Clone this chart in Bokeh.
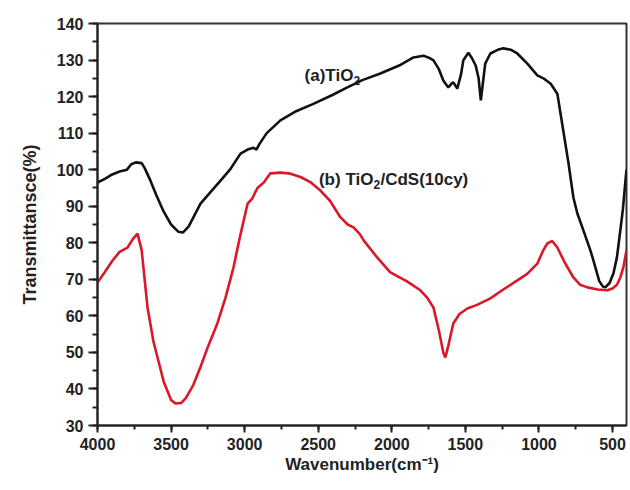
from bokeh.plotting import figure
from bokeh.models import Range1d, SingleIntervalTicker, ColumnDataSource
from bokeh.core.properties import value
from bokeh.embed import file_html
from bokeh.resources import INLINE

# ---- data ----
wn_a = [4000, 3950, 3900, 3850, 3800, 3770, 3740, 3700, 3680, 3640, 3600, 3550, 3500,
        3450, 3420, 3380, 3300, 3164, 3100, 3028, 2980, 2940, 2920, 2900, 2850, 2757,
        2650, 2533, 2400, 2302, 2200, 2078, 1950, 1853, 1785, 1740, 1717, 1680, 1650,
        1616, 1595, 1582, 1555, 1530, 1514, 1480, 1455, 1430, 1410, 1395, 1380, 1365,
        1330, 1280, 1242, 1190, 1147, 1079, 1011, 970, 920, 875, 840, 800, 766, 739,
        698, 651, 630, 590, 565, 549, 520, 494, 470, 447, 430, 412, 405]
tr_a = [96.5, 97.5, 98.7, 99.5, 100.0, 101.5, 102.0, 101.8, 100.5, 97.0, 93.0, 88.5, 85.0,
        83.0, 82.8, 84.5, 90.7, 97.0, 100.0, 104.4, 105.5, 106.0, 105.5, 107.0, 110.0, 113.5,
        116.0, 118.0, 120.5, 122.5, 124.5, 126.3, 128.5, 130.7, 131.2, 130.5, 129.9, 127.5, 124.4,
        122.5, 123.5, 123.9, 122.2, 126.0, 129.9, 132.0, 130.5, 128.5, 125.0, 119.0, 124.0, 129.0,
        131.8, 132.8, 133.2, 132.8, 131.8, 129.0, 125.8, 125.0, 123.5, 120.8, 112.0, 102.0, 92.4, 88.0,
        83.4, 78.0, 75.2, 69.5, 68.0, 67.8, 69.0, 71.6, 76.0, 83.4, 89.0, 97.0, 100.0]

wn_b = [4000, 3950, 3900, 3850, 3796, 3760, 3728, 3700, 3660, 3620, 3592, 3550, 3500,
        3470, 3430, 3400, 3350, 3300, 3250, 3185, 3130, 3076, 3030, 2980, 2950, 2913,
        2870, 2825, 2757, 2700, 2620, 2550, 2485, 2420, 2350, 2300, 2260, 2220, 2190,
        2100, 2010, 1900, 1806, 1760, 1717, 1680, 1650, 1636, 1615, 1582, 1540, 1487,
        1420, 1330, 1250, 1147, 1080, 1011, 970, 943, 910, 875, 830, 766, 720, 671,
        600, 535, 500, 470, 447, 425, 405]
tr_b = [69.1, 72.0, 75.0, 77.5, 78.7, 81.0, 82.5, 78.0, 62.3, 53.0, 48.6, 42.0, 37.0,
        36.0, 36.2, 37.5, 41.0, 46.0, 51.5, 58.0, 65.0, 73.2, 82.0, 90.7, 92.0, 95.0,
        96.5, 99.0, 99.2, 99.0, 98.0, 96.5, 94.3, 91.5, 87.0, 85.0, 84.2, 82.5, 80.6,
        76.0, 71.9, 69.5, 67.0, 65.0, 62.3, 56.0, 50.0, 48.6, 52.0, 57.9, 60.5, 62.0,
        63.0, 64.8, 67.0, 69.7, 71.5, 74.3, 78.0, 79.8, 80.5, 78.7, 75.0, 70.5, 68.5, 67.8,
        67.2, 67.0, 67.5, 68.5, 70.5, 73.5, 78.0]

x_range = (4000, 405)
y_range = (30, 140)

# curve labels: main text (right-aligned at anchor), subscript, tail text
label_x = [2261, 2125]
label_y = [125.8, 97.3]
label_head = ["(a)TiO", "(b) TiO"]
label_sub = ["2", "2"]
label_tail = ["", "/CdS(10cy)"]

FONT = "Liberation Sans"

p = figure(width=630, height=490, output_backend="svg", toolbar_location=None,
           x_range=Range1d(*x_range), y_range=Range1d(*y_range))
p.min_border_left = 97
p.min_border_right = 4
p.min_border_top = 23
p.min_border_bottom = 65
p.background_fill_color = "white"
p.border_fill_color = "white"
p.grid.visible = False
p.outline_line_color = "#333333"
p.outline_line_width = 2

p.line(wn_a, tr_a, line_color="#111111", line_width=2.6)
p.line(wn_b, tr_b, line_color="#d9182a", line_width=2.6)

src = ColumnDataSource(dict(x=label_x, y=label_y, head=label_head, sub=label_sub, tail=label_tail))
p.text(x="x", y="y", text="head", source=src, text_align="right", text_baseline="alphabetic",
       text_font=value(FONT), text_font_style="bold", text_font_size="17px", text_color="#222222")
p.text(x="x", y="y", text="sub", source=src, text_align="left", text_baseline="alphabetic",
       y_offset=5, text_font=value(FONT), text_font_style="bold", text_font_size="12px",
       text_color="#222222")
p.text(x="x", y="y", text="tail", source=src, text_align="left", text_baseline="alphabetic",
       x_offset=7, text_font=value(FONT), text_font_style="bold", text_font_size="17px",
       text_color="#222222")

# axes
p.xaxis.ticker = SingleIntervalTicker(interval=500, num_minor_ticks=2)
p.yaxis.ticker = SingleIntervalTicker(interval=10, num_minor_ticks=2)
for ax in (p.xaxis[0], p.yaxis[0]):
    ax.axis_line_width = 2
    ax.axis_line_color = "#222222"
    ax.major_tick_line_width = 2
    ax.minor_tick_line_width = 2
    ax.major_tick_line_color = "#222222"
    ax.minor_tick_line_color = "#222222"
    ax.major_tick_in = 0
    ax.minor_tick_in = 0
    ax.major_label_text_font = FONT
    ax.major_label_text_font_style = "bold"
    ax.major_label_text_font_size = "16px"
    ax.major_label_text_color = "#222222"
    ax.axis_label_text_font = FONT
    ax.axis_label_text_font_style = "bold"
    ax.axis_label_text_color = "#222222"

p.yaxis.major_tick_out = 9
p.yaxis.minor_tick_out = 5
p.yaxis.major_label_standoff = 5
p.yaxis.axis_label = "Transmittansce(%)"
p.yaxis.axis_label_text_font_size = "18px"
p.yaxis.axis_label_standoff = 14

p.xaxis.major_tick_out = 7
p.xaxis.minor_tick_out = 4
p.xaxis.major_label_standoff = 5
p.xaxis.axis_label = "Wavenumber(cm\u207b\u00b9)"
p.xaxis.axis_label_text_font_size = "17px"
p.xaxis.axis_label_standoff = 2

open("out.html", "w").write(file_html(p, INLINE))
